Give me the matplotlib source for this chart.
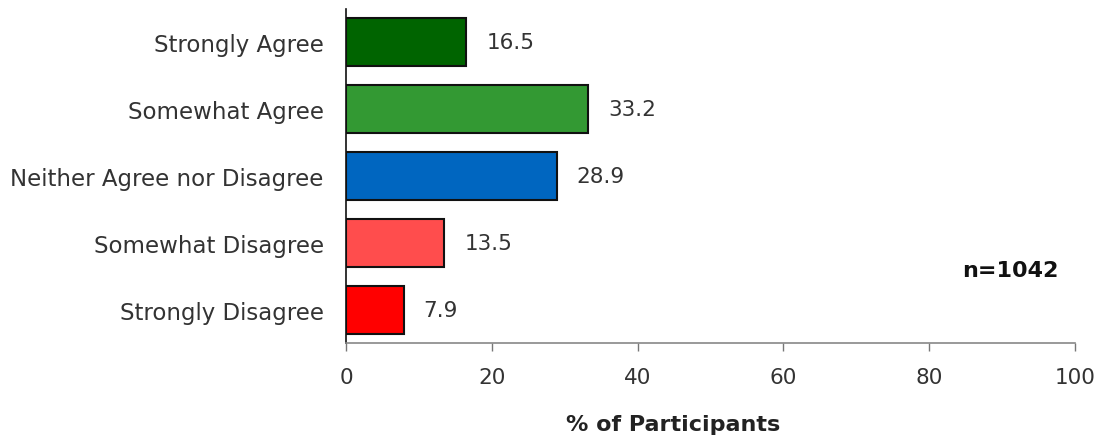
import matplotlib
matplotlib.use("Agg")
import matplotlib.pyplot as plt

categories = ["Strongly Agree", "Somewhat Agree", "Neither Agree nor Disagree",
              "Somewhat Disagree", "Strongly Disagree"]
values = [16.5, 33.2, 28.9, 13.5, 7.9]
colors = ["#006400", "#339933", "#0066c0", "#ff4d4d", "#ff0000"]
xticks = [0, 20, 40, 60, 80, 100]
n_label = "n=1042"
xlabel = "% of Participants"

W, H = 1104, 439
fig = plt.figure(figsize=(W / 100, H / 100), dpi=100)
ax = fig.add_axes([346 / W, 1 - 344 / H, (1075 - 346) / W, (344 - 10) / H])

pos = list(range(len(categories)))
ax.barh(pos, values, height=0.72, color=colors, edgecolor="#111111", linewidth=1.5, zorder=3)
for p, v in zip(pos, values):
    ax.annotate(f"{v}", xy=(v, p), xytext=(20, 0), textcoords="offset pixels",
                va="center", ha="left", fontsize=15.5, color="#333333")

ax.set_xlim(0, 100)
ax.set_ylim(len(categories) - 0.5, -0.5)
ax.set_xticks(xticks)
ax.set_xticklabels([str(t) for t in xticks])
ax.set_yticks(pos)
ax.set_yticklabels(categories)
ax.tick_params(axis="y", length=0, pad=16, labelsize=16.5, labelcolor="#333333")
ax.tick_params(axis="x", length=6, width=1, color="#777777", pad=11, labelsize=15.5, labelcolor="#333333")

for s in ["top", "right"]:
    ax.spines[s].set_visible(False)
ax.spines["left"].set_color("#111111")
ax.spines["left"].set_linewidth(1.2)
ax.spines["bottom"].set_color("#888888")
ax.spines["bottom"].set_linewidth(1.2)

ax.text(84.5, 3.40, n_label, fontsize=16, fontweight="bold", color="#111111",
        ha="left", va="center")
fig.text(673 / W, 1 - 425 / H, xlabel, fontsize=16, fontweight="bold", color="#222222",
         ha="center", va="center")

fig.savefig("out.png", dpi=100)
